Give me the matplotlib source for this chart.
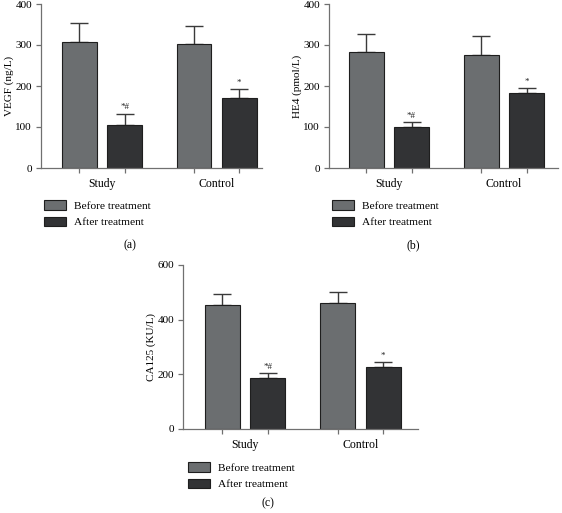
import numpy as np
import matplotlib.pyplot as plt

plt.rcParams['font.family'] = ['Liberation Serif', 'DejaVu Serif']

groups = ["Study", "Control"]
series = ["Before treatment", "After treatment"]

# mean values and upper error (SD)
vegf_before = [307, 303]
vegf_before_err = [46, 44]
vegf_after = [105, 171]
vegf_after_err = [27, 22]

he4_before = [283, 276]
he4_before_err = [45, 47]
he4_after = [101, 182]
he4_after_err = [10, 12]

ca125_before = [454, 460]
ca125_before_err = [39, 40]
ca125_after = [188, 226]
ca125_after_err = [17, 19]

marks = ["*#", "*"]

c_before = "#6b6e70"
c_after = "#323335"
edge = "#1e1e1e"
axcol = "#707070"

fig = plt.figure(figsize=(5.62, 5.13), dpi=100)

W = 1 / 562
H = 1 / 513


def panel(rect, before, berr, after, aerr, ylabel, ymax, step, xlim, letter, letter_xy, leg_anchor):
    ax = fig.add_axes(rect)
    x = np.arange(len(groups))
    off = 0.197
    bw = 0.305
    ax.bar(x - off, before, bw, color=c_before, edgecolor=edge, linewidth=0.8, label=series[0], zorder=2)
    ax.bar(x + off, after, bw, color=c_after, edgecolor=edge, linewidth=0.8, label=series[1], zorder=2)
    ax.errorbar(x - off, before, yerr=[[0] * len(x), berr], fmt='none', ecolor='#3a3a3a',
                elinewidth=1.0, capsize=6.5, capthick=1.0, zorder=1)
    ax.errorbar(x + off, after, yerr=[[0] * len(x), aerr], fmt='none', ecolor='#3a3a3a',
                elinewidth=1.0, capsize=6.5, capthick=1.0, zorder=1)
    for i in range(len(x)):
        ax.text(x[i] + off, after[i] + aerr[i] + ymax * 0.015, marks[i], ha='center', va='bottom',
                fontsize=6.5, color='#222222')
    ax.set_ylim(0, ymax)
    ax.set_yticks(np.arange(0, ymax + 1, step))
    ax.set_xlim(*xlim)
    ax.set_xticks(np.concatenate([x - off, x + off]))
    ax.set_xticklabels([])
    ax.set_xticks(x, minor=True)
    ax.set_xticklabels(groups, minor=True)
    ax.tick_params(axis='x', which='minor', length=0, pad=7, labelsize=8.5)
    ax.tick_params(axis='x', which='major', length=3.5, color=axcol, width=0.9)
    ax.tick_params(axis='y', length=3.5, color=axcol, width=0.9, labelsize=8, pad=3)
    for s in ['top', 'right']:
        ax.spines[s].set_visible(False)
    for s in ['left', 'bottom']:
        ax.spines[s].set_color(axcol)
        ax.spines[s].set_linewidth(0.9)
    ax.set_ylabel(ylabel, fontsize=8)
    ax.yaxis.set_label_coords(-27 / (rect[2] * 562), 0.5)
    leg = ax.legend(loc='upper left', bbox_to_anchor=leg_anchor, bbox_transform=fig.transFigure,
                    frameon=False, fontsize=8.2, handlelength=1.95, handleheight=0.95,
                    handletextpad=0.7, labelspacing=0.5, borderpad=0, borderaxespad=0)
    for p in leg.get_patches():
        p.set_edgecolor(edge)
        p.set_linewidth(0.8)
    fig.text(letter_xy[0], letter_xy[1], letter, ha='center', va='center', fontsize=8.5)
    return ax


panel([41 * W, 1 - 168 * H, 221 * W, 164 * H], vegf_before, vegf_before_err, vegf_after, vegf_after_err,
      "VEGF (ng/L)", 400, 100, (-0.533, 1.397), "(a)", (130 * W, 1 - 245 * H), (44 * W, 1 - 200 * H))
panel([329 * W, 1 - 168 * H, 229 * W, 164 * H], he4_before, he4_before_err, he4_after, he4_after_err,
      "HE4 (pmol/L)", 400, 100, (-0.52, 1.47), "(b)", (413 * W, 1 - 245 * H), (332 * W, 1 - 200 * H))
panel([183 * W, 1 - 429 * H, 235 * W, 164 * H], ca125_before, ca125_before_err, ca125_after, ca125_after_err,
      "CA125 (KU/L)", 600, 200, (-0.537, 1.498), "(c)", (268 * W, 1 - 503 * H), (188 * W, 1 - 462 * H))

fig.savefig("out.png", dpi=100)
